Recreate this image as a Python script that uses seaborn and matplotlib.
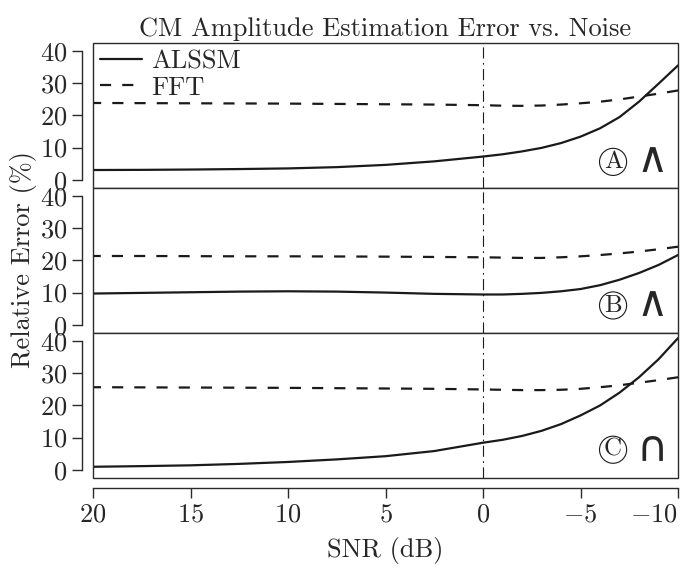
import matplotlib
matplotlib.use("Agg")
import matplotlib.pyplot as plt
from matplotlib.patches import Rectangle
import seaborn as sns
import pandas as pd

# ---- data ----
snr = [20, 17.5, 15, 12.5, 10, 7.5, 5, 2.5, 0, -1, -2, -3, -4, -5, -6, -7, -8, -9, -10]

alssm_A = [3.0, 3.05, 3.15, 3.3, 3.5, 3.9, 4.6, 5.7, 7.2, 7.9, 8.8, 9.9, 11.4, 13.4, 16.0, 19.5, 24.3, 29.9, 35.6]
fft_A   = [23.9, 23.85, 23.8, 23.75, 23.7, 23.6, 23.5, 23.4, 23.2, 23.05, 23.0, 23.1, 23.4, 23.8, 24.3, 25.0, 25.9, 26.8, 27.8]

alssm_B = [9.7, 9.9, 10.1, 10.3, 10.4, 10.3, 10.0, 9.6, 9.4, 9.4, 9.6, 9.9, 10.4, 11.1, 12.3, 14.0, 16.1, 18.6, 21.7]
fft_B   = [21.4, 21.4, 21.35, 21.3, 21.3, 21.25, 21.2, 21.1, 21.0, 20.9, 20.8, 20.8, 21.0, 21.3, 21.7, 22.2, 22.8, 23.5, 24.3]

alssm_C = [0.9, 1.1, 1.35, 1.8, 2.4, 3.2, 4.2, 5.8, 8.4, 9.3, 10.5, 12.1, 14.2, 16.9, 20.0, 24.0, 28.8, 34.4, 41.0]
fft_C   = [25.7, 25.65, 25.6, 25.55, 25.5, 25.4, 25.3, 25.2, 25.0, 24.9, 24.8, 24.8, 24.9, 25.2, 25.7, 26.3, 27.1, 27.9, 28.8]

panels = ["A", "B", "C"]
panel_symbols = ["\u2227", "\u2227", "\u2229"]
methods = ["ALSSM", "FFT"]
y_ticks = [0, 10, 20, 30, 40]
x_ticks = [20, 15, 10, 5, 0, -5, -10]

title = "CM Amplitude Estimation Error vs. Noise"
xlabel = "SNR (dB)"
ylabel = "Relative Error (%)"

series = {
    "A": {"ALSSM": alssm_A, "FFT": fft_A},
    "B": {"ALSSM": alssm_B, "FFT": fft_B},
    "C": {"ALSSM": alssm_C, "FFT": fft_C},
}

# ---- style ----
sns.set_theme(style="white")
plt.rcParams.update({
    "font.family": "serif",
    "font.serif": ["cmr10", "DejaVu Serif"],
    "mathtext.fontset": "cm",
    "axes.formatter.use_mathtext": True,
    "axes.unicode_minus": True,
})

FS = 19
EDGE = "#2a2a2a"

fig = plt.figure(figsize=(6.81, 5.70), dpi=100)
axes = fig.subplots(3, 1, sharex=True, gridspec_kw=dict(hspace=0))
fig.subplots_adjust(left=0.1366, right=0.9956, top=0.9246, bottom=0.1614)

ann_y = [0.18, 0.19, 0.195]

for i, (ax, p) in enumerate(zip(axes, panels)):
    df = pd.DataFrame({"snr": snr * 2,
                       "err": series[p]["ALSSM"] + series[p]["FFT"],
                       "method": ["ALSSM"] * len(snr) + ["FFT"] * len(snr)})
    sns.lineplot(data=df, x="snr", y="err", style="method", style_order=methods,
                 dashes={"ALSSM": "", "FFT": (5, 5)}, color="k", lw=1.6,
                 ax=ax, legend=(i == 0), estimator=None)
    ax.axvline(0, color="k", lw=0.8, ls=(0, (10, 4, 1.5, 4)), zorder=1)

    ax.set_xlim(20, -10)
    ax.set_ylim(-2.6, 42.6)
    ax.set_yticks(y_ticks)
    ax.set_xlabel("")
    ax.set_ylabel("")

    for s in ["top", "right", "bottom"]:
        ax.spines[s].set_visible(False)
    ax.spines["left"].set_position(("outward", 8))
    ax.spines["left"].set_bounds(0, 40)
    ax.spines["left"].set_color(EDGE)
    ax.spines["left"].set_linewidth(1.0)
    ax.tick_params(axis="y", left=True, direction="out", length=7, width=1.0,
                   pad=3.5, labelsize=FS, color=EDGE)
    ax.tick_params(axis="x", bottom=False)

    ax.add_patch(Rectangle((0, 0), 1, 1, transform=ax.transAxes, fill=False,
                           lw=1.0, ec=EDGE, clip_on=False, zorder=5))

    ax.text(0.889, ann_y[i], p, transform=ax.transAxes, ha="center", va="center",
            fontsize=18,
            bbox=dict(boxstyle="circle,pad=0.1", fc="none", ec="k", lw=0.8))
    ax.text(0.956, ann_y[i] + 0.01, panel_symbols[i], transform=ax.transAxes,
            ha="center", va="center", fontsize=31, family="DejaVu Sans")

bax = axes[-1]
bax.spines["bottom"].set_visible(True)
bax.spines["bottom"].set_position(("outward", 7.2))
bax.spines["bottom"].set_bounds(-10, 20)
bax.spines["bottom"].set_color(EDGE)
bax.spines["bottom"].set_linewidth(1.0)
bax.set_xticks(x_ticks)
bax.tick_params(axis="x", bottom=True, direction="out", length=7.5, width=1.0,
                pad=3, labelsize=FS, color=EDGE)
fig.canvas.draw()
bax.get_xticklabels()[-1].set_horizontalalignment("right")

leg = axes[0].legend(loc="upper left", frameon=False, fontsize=FS, handlelength=1.6,
                     handletextpad=0.35, labelspacing=0.1, borderaxespad=0.1,
                     borderpad=0.15)

axes[0].set_title(title, fontsize=FS, pad=5)
fig.text(0.034, 0.544, ylabel, rotation=90, ha="center", va="center", fontsize=FS)
fig.text(0.566, 0.035, xlabel, ha="center", va="center", fontsize=FS)

fig.savefig("out.png", dpi=100)
